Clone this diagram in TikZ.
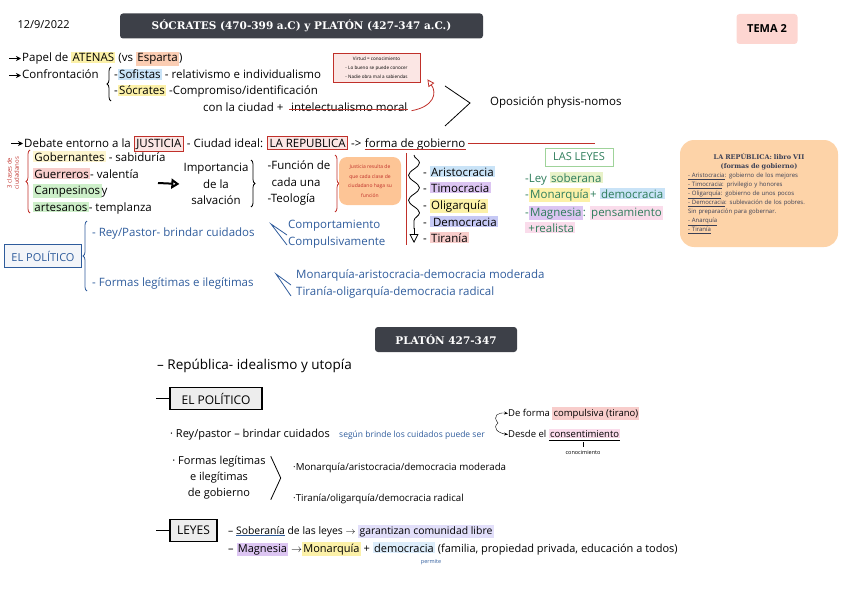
\documentclass[tikz,border=0pt]{standalone}
\usepackage{fontspec}
\setmainfont{Open Sans}
\newfontfamily\serifdv{DejaVu Serif}
\usepackage{tikz}
\usetikzlibrary{arrows.meta,positioning,calc,decorations.pathreplacing,decorations.pathmorphing}

\definecolor{oscuro}{HTML}{3D4048}
\definecolor{rojo}{HTML}{C0302A}
\definecolor{rosado}{HTML}{FBE6E4}
\definecolor{temarosa}{HTML}{FDD6D1}
\definecolor{amarillo}{HTML}{FCF1A8}
\definecolor{amarillopal}{HTML}{FDF5CF}
\definecolor{melocoton}{HTML}{FBCDB3}
\definecolor{azulclaro}{HTML}{C9E3F7}
\definecolor{celeste}{HTML}{DCEDFB}
\definecolor{lila}{HTML}{DCC5F2}
\definecolor{indigo}{HTML}{C6C9F5}
\definecolor{rosa}{HTML}{F8CDCB}
\definecolor{rosapal}{HTML}{FADCEB}
\definecolor{verde}{HTML}{CDEFC9}
\definecolor{lima}{HTML}{E8F2C8}
\definecolor{lavanda}{HTML}{E2DFFA}
\definecolor{naranja}{HTML}{FDD3A8}
\definecolor{naranjaf}{HTML}{FDC596}
\definecolor{azultxt}{HTML}{2F5C9C}
\definecolor{verdetxt}{HTML}{2E7D5B}
\definecolor{verdeborde}{HTML}{9FD39A}
\definecolor{grisazul}{HTML}{3A3F55}

\newcommand{\hl}[2]{{\setlength{\fboxsep}{1.3pt}\colorbox{#1}{#2}}}
\newcommand{\cajaroja}[1]{{\setlength{\fboxsep}{1.5pt}\setlength{\fboxrule}{1pt}\fcolorbox{rojo}{rosado}{#1}}}

\begin{document}
\begin{tikzpicture}[x=1pt,y=-1pt,
  txt/.style={anchor=base west,inner sep=0pt,font=\fontsize{11.5}{16.5}\selectfont},
  mano/.style={anchor=base west,inner sep=0pt,font=\fontsize{11}{18}\selectfont},
  titlebox/.style={fill=oscuro,text=white,rounded corners=3pt,font=\serifdv\bfseries\fontsize{10.5}{12}\selectfont},
  bala/.style={-{Stealth[length=5pt,width=5pt]},line width=1.3pt},
  llave/.style={decorate,decoration={brace,amplitude=4pt},thick},
  grisbox/.style={draw,line width=1.2pt,fill=black!7,minimum height=22pt,font=\fontsize{12}{12}\selectfont}]
\useasboundingbox (0,0) rectangle (848,599);

% cabecera
\node[anchor=west,font=\fontsize{11}{12}\selectfont] (fecha) at (14,25) {12/9/2022};
\node[titlebox,minimum width=363pt,minimum height=25pt] (titulo) at (301.5,26) {SÓCRATES (470-399 a.C) y PLATÓN (427-347 a.C.)};
\node[fill=temarosa,rounded corners=3pt,minimum width=61pt,minimum height=30pt,font=\bfseries\fontsize{11}{12}\selectfont] (tema) at (767,29) {TEMA 2};

% socrates
\node[txt] (papel) at (22,62) {Papel de \hl{amarillo}{ATENAS} (vs \hl{melocoton}{Esparta})};
\draw[bala] ([xshift=-13pt,yshift=3.5pt]papel.base west) -- ([xshift=-1pt,yshift=3.5pt]papel.base west);
\node[txt] (confr) at (22,79) {Confrontación};
\draw[bala] ([xshift=-13pt,yshift=3.5pt]confr.base west) -- ([xshift=-1pt,yshift=3.5pt]confr.base west);
\draw[llave] (111,101) -- (111,67);
\node[txt] (sofistas) at (114,79) {-\hl{azulclaro}{Sofistas} - relativismo e individualismo};
\node[txt] (socrates) at (114,95) {-\hl{amarillo}{Sócrates} -Compromiso/identificación};
\node[txt] (ciudad) at (203,112) {con la ciudad +};
\node[txt] (intelec) at (291,112) {intelectualismo moral};
\draw[rojo,thick] ([xshift=-2pt,yshift=3pt]intelec.south west) -- ([yshift=3pt]intelec.south east);
\node[draw=rojo,fill=rosado,thick,minimum width=87pt,minimum height=29pt,inner sep=1pt,align=center,font=\fontsize{4.6}{9}\selectfont] (virtud) at (376.5,67.5) {Virtud = conocimiento\\- Lo bueno se puede conocer\\- Nadie obra mal a sabiendas};
\draw[rojo,thick,-{Triangle[open,length=7pt,width=7pt]}] ([xshift=4pt,yshift=-3pt]intelec.east) .. controls +(22,-4) and +(10,14) .. ([xshift=7pt,yshift=3pt]virtud.south east);
\node[txt] (oposicion) at (490,106) {Oposición physis-nomos};
\draw[thick] ([xshift=-45pt,yshift=-23pt]oposicion.west) -- ([xshift=-20pt]oposicion.west) -- ([xshift=-45pt,yshift=17pt]oposicion.west);

% debate
\node[txt] (debate) at (24,147) {Debate entorno a la \cajaroja{JUSTICIA} - Ciudad ideal: \cajaroja{LA REPUBLICA} ->};
\draw[bala] ([xshift=-13pt,yshift=3.5pt]debate.base west) -- ([xshift=-1pt,yshift=3.5pt]debate.base west);
\node[txt,right=3pt of debate.base east,anchor=base west] (forma) {forma de gobierno};
\draw[rojo,thick] ([yshift=1pt]forma.south west) -- ([yshift=1pt]forma.south east);
\coordinate (finlinea) at (595,0);
\draw[rojo,thick] ([xshift=2pt,yshift=1pt]forma.east) -- ([yshift=1pt]forma.east -| finlinea);

% clases
\node[rotate=90,text=rojo,align=center,inner sep=0pt,font=\fontsize{6}{7}\selectfont] (clases) at (13,173) {3 clases de\\ciudadanos};
\draw[llave,rojo] (30,213) -- (30,150);
\node[txt] (gober) at (33,161) {\hl{amarillopal}{Gobernantes} - sabiduría};
\node[txt] (guerr) at (33,178) {\hl{rosa}{Guerreros}- valentía};
\node[txt] (campe) at (33,194) {\hl{verde}{Campesinos}y};
\node[txt] (artes) at (33,211) {\hl{verde}{artesanos}- templanza};
\node[align=center,inner sep=0pt,font=\fontsize{11.5}{16.5}\selectfont] (importancia) at (216,184) {Importancia\\de la\\salvación};
\draw[line width=2pt,-{Triangle[open,length=8pt,width=10pt]}] (158,183) -- ([xshift=-4pt]importancia.west);
\draw[llave] (251,160) -- (251,207);
\node[align=left,inner sep=0pt,font=\fontsize{11.5}{16.5}\selectfont] (funcion) at (299,183) {-Función de\\\hspace*{4pt}cada una\\-Teología};
\draw[llave,rojo] (335,155) -- (335,212);
\node[fill=naranjaf,rounded corners=8pt,text=rojo,minimum width=62pt,minimum height=48pt,inner sep=1pt,align=center,font=\fontsize{5}{9.5}\selectfont] (justicia) at (370,181) {Justicia resulta de\\que cada clase de\\ciudadano haga su\\función};
\draw[rojo,thick] ([xshift=5pt]justicia.north east) ++(0,-4) -- ++(0,92);

% formas de gobierno
\draw[thick,decorate,decoration={snake,amplitude=5.5pt,segment length=25pt}] (414,155) -- (414,229);
\draw[thick,-{Triangle[open,length=9pt,width=9pt]}] (414,228) -- (414,243);
\node[txt] (aristo) at (423,176) {- \hl{azulclaro}{Aristocracia}};
\node[txt] (timo) at (423,192) {- \hl{lila}{Timocracia}};
\node[txt] (oligo) at (423,209) {- \hl{amarillo}{Oligarquía}};
\node[txt] (demo) at (423,226) {- \hl{indigo}{\,Democracia}};
\node[txt] (tira) at (423,242) {- \hl{rosa}{Tiranía}};

% las leyes
\node[draw=verdeborde,line width=1pt,text=verdetxt,minimum width=68pt,minimum height=18pt,font=\fontsize{11}{12}\selectfont] (lasleyes) at (579,157) {LAS LEYES};
\node[txt,text=verdetxt] (ley) at (525,182) {-Ley \hl{lima}{soberana}};
\node[txt,text=verdetxt] (monar) at (525,198) {-\hl{amarillo}{Monarquía}+ \hl{azulclaro}{democracia}};
\node[txt,text=verdetxt] (magne) at (525,216) {-\hl{lila}{Magnesia}: \hl{rosapal}{pensamiento}};
\node[txt,text=verdetxt] (realista) at (525,232) {\hl{rosapal}{\,+realista}};

% libro VII
\node[fill=naranja,rounded corners=14pt,text=grisazul,minimum width=158pt,minimum height=107pt,text width=142pt,inner sep=0pt,font=\fontsize{6}{9}\selectfont] (librovii) at (759,193.5) {{\centering\serifdv\bfseries\fontsize{6.5}{9}\selectfont LA REPÚBLICA: libro VII\\(formas de gobierno)\par}\raggedright
\underline{- Aristocracia}: gobierno de los mejores\\
\underline{- Timocracia}: privilegio y honores\\
\underline{- Oligarquía}: gobierno de unos pocos\\
\underline{- Democracia}: sublevación de los pobres.\\
Sin preparación para gobernar.\\
\underline{- Anarquía}\\
\underline{- Tiranía}};

% el politico
\node[draw=azultxt,fill=azultxt!6,thick,text=azultxt,minimum width=77pt,minimum height=23pt,font=\fontsize{11}{12}\selectfont] (politico) at (43,256) {EL POLÍTICO};
\draw[llave,azultxt] (87,291) -- (87,221);
\node[txt,text=azultxt] (rey) at (92,236) {- Rey/Pastor- brindar cuidados};
\node[txt,text=azultxt] (comport) at (288,228) {Comportamiento};
\node[txt,text=azultxt] (compul) at (288,245) {Compulsivamente};
\draw[azultxt,thick] ([xshift=-1pt,yshift=-7pt]comport.base west) -- ([xshift=-17pt,yshift=4pt]comport.base west) -- ([xshift=-1pt,yshift=0pt]compul.base west);
\node[txt,text=azultxt] (formas) at (92,286) {- Formas legítimas e ilegítimas};
\node[txt,text=azultxt] (monarq) at (296,278) {Monarquía-aristocracia-democracia moderada};
\node[txt,text=azultxt] (tiran) at (296,295) {Tiranía-oligarquía-democracia radical};
\draw[azultxt,thick] ([xshift=-5pt,yshift=-7pt]monarq.base west) -- ([xshift=-20pt,yshift=4pt]monarq.base west) -- ([xshift=-5pt,yshift=-1pt]tiran.base west);

% platon
\node[titlebox,minimum width=142pt,minimum height=25pt] (platon) at (446,339.5) {PLATÓN 427-347};
\node[mano,font=\fontsize{13.5}{18}\selectfont] (republica) at (157,369) {– República- idealismo y utopía};
\node[grisbox,minimum width=92pt] (politico2) at (216,398.5) {EL POLÍTICO};
\draw[line width=1.2pt] ([xshift=-13pt]politico2.west) -- (politico2.west);
\node[mano] (rey2) at (170,437) {· Rey/pastor – brindar cuidados};
\node[anchor=base west,inner sep=0pt,text=azultxt,font=\fontsize{8.5}{9}\selectfont] (segun) at (339,437) {según brinde los cuidados puede ser};
\coordinate (bifurca) at (498,423);
\node[mano,font=\fontsize{9.5}{12}\selectfont] (deforma) at (508,416) {De forma \hl{rosa}{compulsiva (tirano)}};
\node[mano,font=\fontsize{9.5}{12}\selectfont] (desde) at (508,437) {Desde el \underline{\hl{rosapal}{consentimiento}}};
\draw[-{Stealth[length=4pt]}] (bifurca) .. controls (492,416) and (498,412) .. (deforma.west);
\draw[-{Stealth[length=4pt]}] (bifurca) .. controls (492,428) and (498,433) .. (desde.west);
\node[anchor=base,inner sep=0pt,font=\fontsize{5.5}{7}\selectfont] (conocim) at (583,454) {conocimiento};
\draw (conocim.north) ++(0,-3) -- ++(0,-5);
\node[align=center,inner sep=0pt,font=\fontsize{11}{16}\selectfont] (formas2) at (219,478) {· Formas legítimas\\e ilegítimas\\de gobierno};
\draw[thick] ([xshift=5pt]formas2.north east) -- ([xshift=15pt]formas2.east) -- ([xshift=5pt]formas2.south east);
\node[mano,font=\fontsize{9.7}{12}\selectfont] (monarq2) at (293,470) {·Monarquía/aristocracia/democracia moderada};
\node[mano,font=\fontsize{9.7}{12}\selectfont] (tiran2) at (293,501) {·Tiranía/oligarquía/democracia radical};
\node[grisbox,minimum width=47pt] (leyes2) at (193.5,530.5) {LEYES};
\draw[line width=1.2pt] ([xshift=-13pt]leyes2.west) -- (leyes2.west);
\node[mano,font=\fontsize{10.4}{12}\selectfont] (sober) at (228,534) {– {\color{azultxt}\underline{{\color{black}Soberanía}}} de las leyes $\rightarrow$ \hl{lavanda}{garantizan comunidad libre}};
\node[mano] (magne2) at (228,552) {– \hl{lila}{Magnesia} $\rightarrow$\hl{amarillo}{Monarquía} + \hl{celeste}{democracia} (familia, propiedad privada, educación a todos)};
\node[anchor=base,inner sep=0pt,text=azultxt,font=\fontsize{5.5}{7}\selectfont] (permite) at (431,563) {permite};
\end{tikzpicture}
\end{document}
